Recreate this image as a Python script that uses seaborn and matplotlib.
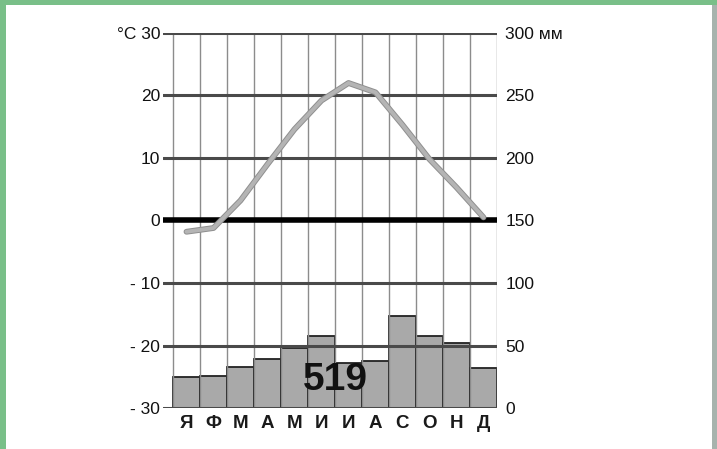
import matplotlib
matplotlib.use("Agg")
import matplotlib.pyplot as plt
import matplotlib.patheffects as pe
from matplotlib.patches import Rectangle
import numpy as np
import pandas as pd
import seaborn as sns

# climate diagram: monthly precipitation (bars) and temperature (line)
months = ["Я", "Ф", "М", "А", "М", "И", "И", "А", "С", "О", "Н", "Д"]
temp_c = [-1.8, -1.2, 3.2, 9.0, 14.6, 19.2, 22.0, 20.5, 15.3, 9.8, 5.3, 0.5]
precip_mm = [25, 26, 33, 39, 48, 58, 36, 38, 74, 58, 52, 32]
temp_ticks = [-30, -20, -10, 0, 10, 20, 30]
temp_labels = ["- 30", "- 20", "- 10", "0", "10", "20", "°C 30"]
mm_ticks = [0, 50, 100, 150, 200, 250, 300]
mm_labels = ["0", "50", "100", "150", "200", "250", "300 мм"]
total_label = "519"

sns.set_style("white")
plt.rcParams["font.family"] = ["Liberation Sans", "DejaVu Sans"]

df = pd.DataFrame({"month": range(len(months)), "mm": precip_mm, "t": temp_c})

fig = plt.figure(figsize=(7.17, 4.49), dpi=100)
fig.patch.set_facecolor("#79bf88")
fig.add_artist(Rectangle((6 / 717, 0), 706 / 717, 444 / 449, transform=fig.transFigure,
                         facecolor="white", edgecolor="none", zorder=0))
fig.add_artist(Rectangle((712 / 717, 0), 5 / 717, 444 / 449, transform=fig.transFigure,
                         facecolor="#a7b3ad", edgecolor="none", zorder=0))

ax = fig.add_axes([163 / 717, 41 / 449, 334 / 717, 375 / 449])
ax.set_facecolor("none")

sns.barplot(data=df, x="month", y="mm", color="#a9a9a9", saturation=1, width=1.0,
            edgecolor="#222222", linewidth=1.3, ax=ax, zorder=1)

# grid
for v in mm_ticks:
    if v == 150:
        ax.axhline(v, color="black", lw=4, zorder=3)
    else:
        ax.axhline(v, color="#4a4a4a", lw=2.2, zorder=3)
for b in np.arange(-0.5, len(months), 1):
    ax.plot([b, b], [0, 300], color="#8c8c8c", lw=1, zorder=2)

ax.text((len(months) - 1) / 2, 22, total_label, ha="center", va="center",
        fontsize=28, fontweight="bold", color="#111111", zorder=5)

ax2 = ax.twinx()
sns.lineplot(data=df, x="month", y="t", color="#b4b4b4", lw=2.8, ax=ax2, zorder=6,
             path_effects=[pe.Stroke(linewidth=4.2, foreground="#8f8f8f"), pe.Normal()])

ax.set_ylim(0, 300)
ax2.set_ylim(-30, 30)
ax.set_xlim(-0.5 - 10 / 27, len(months) - 0.5)

ax.yaxis.tick_right()
ax.set_yticks(mm_ticks, mm_labels)
ax2.yaxis.tick_left()
ax2.set_yticks(temp_ticks, temp_labels)
ax.set_xticks(range(len(months)), months)

ax.tick_params(axis="y", length=0, pad=6, labelsize=12.5, labelcolor="#111111")
ax2.tick_params(axis="y", length=0, pad=2, labelsize=12.5, labelcolor="#111111")
ax.tick_params(axis="x", length=0, pad=5, labelsize=13.5, labelcolor="#1a1a1a")
for lab in ax.get_xticklabels():
    lab.set_fontweight("bold")

ax.set_xlabel("")
ax.set_ylabel("")
ax2.set_xlabel("")
ax2.set_ylabel("")
for a in (ax, ax2):
    for s in a.spines.values():
        s.set_visible(False)

fig.savefig("out.png", dpi=100, facecolor=fig.get_facecolor())
